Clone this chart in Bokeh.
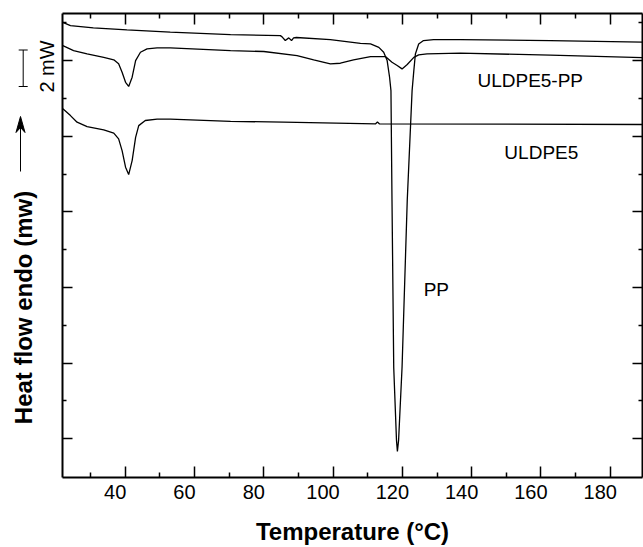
import math
from bokeh.plotting import figure
from bokeh.layouts import row
from bokeh.models import (Range1d, LinearAxis, FixedTicker, Label, Arrow,
                          TeeHead, ColumnDataSource, CustomJSTickFormatter)
from bokeh.core.properties import value
from bokeh.embed import file_html
from bokeh.resources import INLINE

# ---------------- data ----------------
# PP trace (temperature in degC, heat flow in mW, arbitrary offset)
pp_T = [22.0, 24.2, 30.8, 40.5, 53.0, 70.4, 84.8, 85.4, 86.2, 87.2, 88.0, 88.6,
        89.4, 99.2, 107.9, 110.8, 113.2, 114.6, 115.6, 116.3, 116.7, 117.0,
        117.5, 118.3, 118.56, 118.9, 119.9, 121.4, 122.8, 123.3, 123.75, 124.7,
        126.1, 129.0, 136.7, 162.7, 189.3]
pp_hf = [24.02, 23.85, 23.73, 23.62, 23.50, 23.37, 23.32, 23.23, 23.06, 23.20,
         23.06, 23.20, 23.22, 23.11, 22.91, 22.88, 22.70, 22.44, 22.00, 21.12,
         20.41, 14.60, 5.77, 1.91, 1.33, 1.91, 5.77, 14.60, 20.41, 21.47, 22.35,
         22.88, 23.06, 23.11, 23.11, 23.06, 22.98]

# ULDPE5-PP blend trace
blend_T = [22.0, 25.1, 29.0, 33.8, 36.7, 38.1, 39.1, 40.1, 41.0, 42.0, 43.0,
           44.4, 46.3, 49.2, 53.0, 70.4, 80.0, 89.6, 94.4, 99.2, 102.1, 105.9,
           110.8, 115.1, 117.0, 118.5, 119.9, 121.4, 123.3, 124.7, 127.1, 136.7,
           162.7, 189.3]
blend_hf = [22.79, 22.53, 22.35, 22.17, 22.04, 21.83, 21.38, 20.85, 20.63, 21.12,
            22.00, 22.44, 22.62, 22.67, 22.67, 22.53, 22.48, 22.26, 22.04, 21.83,
            21.86, 22.04, 22.21, 22.21, 21.91, 21.74, 21.56, 21.79, 22.17, 22.30,
            22.35, 22.39, 22.29, 22.16]

# ULDPE5 trace
uldpe_T = [22.0, 24.2, 26.1, 29.0, 33.8, 36.7, 38.1, 39.1, 40.1, 41.0, 42.0,
           43.0, 43.9, 45.8, 49.2, 53.0, 70.4, 85.7, 112.2, 112.8, 113.4, 189.3]
uldpe_hf = [19.45, 19.09, 18.74, 18.51, 18.34, 18.16, 17.86, 17.24, 16.36, 15.97,
            16.71, 17.94, 18.56, 18.83, 18.90, 18.90, 18.79, 18.74, 18.65, 18.75,
            18.65, 18.62]

curve_names = ["ULDPE5-PP", "ULDPE5", "PP"]

x_major = [40, 60, 80, 100, 120, 140, 160, 180]
x_minor = [30, 50, 70, 90, 110, 130, 150, 170, 190]
y_major = [2, 6, 10, 14, 18, 22]
y_minor = [4, 8, 12, 16, 20, 24]

y_title = "Heat flow endo (mw)"
x_title = "Temperature (°C)"
scale_text = "2 mW"

FONT = "Liberation Sans"
W, H = 643, 547
LEFT_W = 60
TOP, BOTTOM = 13, 70

# ---------------- main figure ----------------
X0, X1 = 21.9, 189.3
p = figure(width=W - LEFT_W, height=H, x_range=Range1d(X0, X1),
           y_range=Range1d(-0.05, 24.49), output_backend="svg",
           toolbar_location=None, min_border_left=2, min_border_right=1,
           min_border_top=TOP, min_border_bottom=BOTTOM)
p.xgrid.visible = False
p.ygrid.visible = False
p.outline_line_color = None
p.background_fill_color = "white"
p.border_fill_color = "white"

blank = CustomJSTickFormatter(code="return '';")

def style_ticks(ax, ticker, maj, mnr):
    ax.ticker = ticker
    ax.formatter = blank
    ax.major_tick_in = maj
    ax.major_tick_out = 0
    ax.minor_tick_in = mnr
    ax.minor_tick_out = 0
    ax.axis_line_width = 2
    ax.axis_line_color = "black"
    ax.major_tick_line_width = 1.5
    ax.minor_tick_line_width = 1.5
    ax.major_tick_line_color = "black"
    ax.minor_tick_line_color = "black"
    ax.major_label_standoff = 0
    ax.axis_label = None

style_ticks(p.xaxis[0], FixedTicker(ticks=x_major, minor_ticks=x_minor), 11, 5)
style_ticks(p.yaxis[0], FixedTicker(ticks=y_major, minor_ticks=y_minor), 10, 4)

top_ax = LinearAxis()
style_ticks(top_ax, FixedTicker(ticks=x_major, minor_ticks=x_minor), 11, 5)
p.add_layout(top_ax, "above")

right_ax = LinearAxis()
style_ticks(right_ax, FixedTicker(ticks=y_major, minor_ticks=y_minor), 10, 4)
p.add_layout(right_ax, "right")

# tick labels sit slightly left of the tick marks in the original
SHIFT = 2.9
p.extra_x_ranges = {"lab": Range1d(X0 + SHIFT, X1 + SHIFT)}
lab_ax = LinearAxis(x_range_name="lab", ticker=FixedTicker(ticks=x_major, minor_ticks=[]))
lab_ax.axis_line_color = None
lab_ax.major_tick_line_color = None
lab_ax.minor_tick_line_color = None
lab_ax.major_tick_in = 0
lab_ax.major_tick_out = 0
lab_ax.major_label_standoff = 7
lab_ax.major_label_text_font = FONT
lab_ax.major_label_text_font_size = "20px"
lab_ax.major_label_text_color = "black"
lab_ax.axis_label = x_title
lab_ax.axis_label_text_font = FONT
lab_ax.axis_label_text_font_size = "24px"
lab_ax.axis_label_text_font_style = "bold"
lab_ax.axis_label_text_color = "black"
lab_ax.axis_label_standoff = 16
p.add_layout(lab_ax, "below")

for T, hf in ((pp_T, pp_hf), (blend_T, blend_hf), (uldpe_T, uldpe_hf)):
    p.line(T, hf, line_color="black", line_width=1.3)

name_src = ColumnDataSource(dict(x=[156.9, 160.1, 129.8], y=[20.94, 17.14, 9.89],
                                 t=curve_names))
p.text(x="x", y="y", text="t", source=name_src, text_font=value(FONT),
       text_font_size="19px", text_align="center", text_baseline="middle",
       text_color="black")

# ---------------- left strip: axis title, arrow, scale bar ----------------
# its frame is aligned with the main frame (page rows TOP .. H-BOTTOM);
# the range is set so that a data y equals H minus the page row.
lp = figure(width=LEFT_W, height=H, x_range=Range1d(0, LEFT_W),
            y_range=Range1d(BOTTOM, H - TOP), output_backend="svg",
            toolbar_location=None, x_axis_location=None, y_axis_location=None,
            min_border_left=0, min_border_right=0, min_border_top=TOP,
            min_border_bottom=BOTTOM)
lp.xgrid.visible = False
lp.ygrid.visible = False
lp.outline_line_color = None
lp.background_fill_color = "white"
lp.border_fill_color = "white"

lp.add_layout(Label(x=23, y=H - 307, text=y_title, angle=math.pi / 2,
                    text_align="center", text_baseline="middle",
                    text_font=FONT, text_font_size="24px",
                    text_font_style="bold", text_color="black"))

# "endo up" arrow: shaft and notched head
AX = 20
lp.segment(x0=[AX], y0=[H - 171], x1=[AX], y1=[H - 126],
           line_color="black", line_width=1)
lp.patch(x=[AX, AX - 4.5, AX, AX + 4.5], y=[H - 116, H - 132, H - 127, H - 132],
         fill_color="black", line_color="black", line_width=1)

# 2 mW scale bar
lp.add_layout(Arrow(x_start=22.7, y_start=H - 86, x_end=22.7, y_end=H - 49.5,
                    start=TeeHead(size=9, line_color="black", line_width=1),
                    end=TeeHead(size=9, line_color="black", line_width=1),
                    line_color="black", line_width=1))
lp.add_layout(Label(x=46.5, y=H - 66, text=scale_text, angle=math.pi / 2,
                    text_align="center", text_baseline="middle",
                    text_font=FONT, text_font_size="20px", text_color="black"))

layout = row(lp, p, spacing=0)
open("out.html", "w").write(file_html(layout, INLINE))
